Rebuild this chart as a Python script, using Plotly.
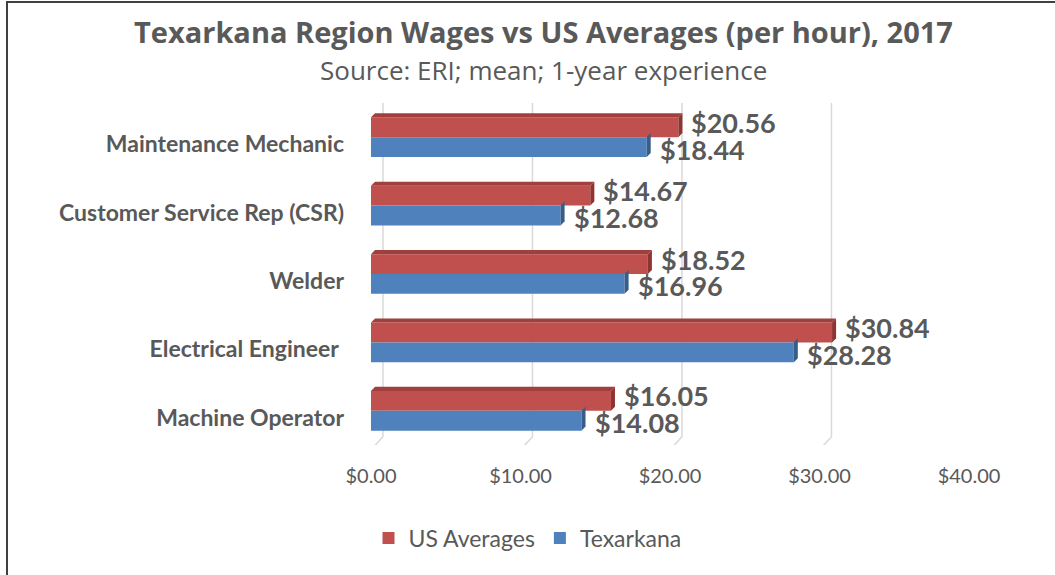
import plotly.graph_objects as go

categories = ["Maintenance Mechanic", "Customer Service Rep (CSR)", "Welder",
              "Electrical Engineer ", "Machine Operator"]
us_avg = [20.56, 14.67, 18.52, 30.84, 16.05]
texarkana = [18.44, 12.68, 16.96, 28.28, 14.08]
tick_vals = [0, 10, 20, 30, 40]
tick_text = ["$0.00", "$10.00", "$20.00", "$30.00", "$40.00"]
title_text = "Texarkana Region Wages vs US Averages (per hour), 2017"
subtitle_text = "Source: ERI; mean; 1-year experience"

FONT = "Lato"
TFONT = "Open Sans"
TXT = "#595959"
RED, RED_SIDE, RED_TOP = "#C0504D", "#8E3532", "#A13F3C"
BLUE, BLUE_SIDE = "#4F81BD", "#385D8A"

W, H = 1055, 575
L, R, T, B = 371, 86, 103, 130
bw = 0.29            # bar thickness (category units)
dx, dy = 0.27, 0.06  # 3D depth (x units, y units)

ypos = list(range(len(categories)))
pw, ph = W - L - R, H - T - B
def px_x(p): return (p - L) / pw
def px_y(p): return 1 - (p - T) / ph
label_drop = 7 / (ph / len(categories))

fig = go.Figure()

fig.add_trace(go.Bar(
    name="US Averages", y=ypos, x=us_avg, orientation="h",
    width=bw, offset=-bw, marker=dict(color=RED, line=dict(width=0)),
    hoverinfo="x+name"))
fig.add_trace(go.Bar(
    name="Texarkana", y=ypos, x=texarkana, orientation="h",
    width=bw, offset=0, marker=dict(color=BLUE, line=dict(width=0)),
    hoverinfo="x+name"))

# 3D faces derived from the data
def face(xs, ys, color):
    fig.add_trace(go.Scatter(x=xs, y=ys, fill="toself", fillcolor=color,
                             mode="lines", line=dict(width=0, color=color),
                             showlegend=False, hoverinfo="skip", cliponaxis=False))

annotations = []
for i, (u, t) in enumerate(zip(us_avg, texarkana)):
    ytop = i - bw
    ymid = i
    ybot = i + bw
    face([0, u, u + dx, dx, 0], [ytop, ytop, ytop - dy, ytop - dy, ytop], RED_TOP)
    face([u, u + dx, u + dx, u, u], [ytop, ytop - dy, ymid - dy, ymid, ytop], RED_SIDE)
    face([t, t + dx, t + dx, t, t], [ymid, ymid - dy, ybot - dy, ybot, ymid], BLUE_SIDE)
    annotations.append(dict(x=u, y=i - bw / 2, xref="x", yref="y",
                            text="<b>${:.2f}</b>".format(u), showarrow=False,
                            xanchor="left", yanchor="middle", xshift=11, yshift=5,
                            font=dict(family=FONT, size=27, color=TXT)))
    annotations.append(dict(x=t, y=i + bw / 2, xref="x", yref="y",
                            text="<b>${:.2f}</b>".format(t), showarrow=False,
                            xanchor="left", yanchor="middle", xshift=11, yshift=-2,
                            font=dict(family=FONT, size=27, color=TXT)))

annotations.append(dict(x=px_x(543), y=px_y(31), xref="paper", yref="paper",
                        xanchor="center", yanchor="middle", showarrow=False,
                        text="<b>" + title_text + "</b>",
                        font=dict(family=TFONT, size=29, color=TXT)))
annotations.append(dict(x=px_x(543), y=px_y(70), xref="paper", yref="paper",
                        xanchor="center", yanchor="middle", showarrow=False,
                        text=subtitle_text,
                        font=dict(family=TFONT, size=26, color=TXT)))

# perspective gridlines
shapes = []
gdx = 0.8
for v in tick_vals:
    shapes.append(dict(type="path", xref="x", yref="y",
                       path="M {a},{y0} L {a},{y1} L {b},{y2}".format(
                           a=v + gdx, b=v, y0=-0.62, y1=4.38, y2=4.57),
                       line=dict(color="#D9D9D9", width=1.5), layer="below"))

# outer frame (top & left edges)
shapes.append(dict(type="line", xref="paper", yref="paper",
                   x0=px_x(6), x1=px_x(W + 5), y0=px_y(2), y1=px_y(2),
                   line=dict(color="#404040", width=2)))
shapes.append(dict(type="line", xref="paper", yref="paper",
                   x0=px_x(7), x1=px_x(7), y0=px_y(2), y1=px_y(H + 5),
                   line=dict(color="#404040", width=2)))

fig.update_layout(
    width=W, height=H,
    margin=dict(l=L, r=R, t=T, b=B, autoexpand=False),
    paper_bgcolor="white", plot_bgcolor="white",
    barmode="overlay",
    xaxis=dict(range=[0, 40], tickvals=tick_vals, ticktext=tick_text,
               showgrid=False, zeroline=False, showline=False,
               ticklabelstandoff=17,
               tickfont=dict(family=FONT, size=20, color=TXT)),
    yaxis=dict(range=[4.5, -0.5], tickvals=[p + label_drop for p in ypos],
               ticktext=["<b>" + c + "</b>" for c in categories],
               showgrid=False, zeroline=False, showline=False,
               ticklabelstandoff=26,
               tickfont=dict(family=FONT, size=23, color=TXT)),
    legend=dict(orientation="h", x=0.5, xref="container", xanchor="center",
                y=1 - 538 / H, yref="container", yanchor="middle",
                font=dict(family=FONT, size=23, color=TXT),
                itemwidth=30, traceorder="normal"),
    annotations=annotations,
    shapes=shapes,
    showlegend=True,
)

fig.write_html("out.html", config={"displayModeBar": False},
               post_script="document.body.style.margin='0';"
                           "document.body.style.overflow='hidden';")
